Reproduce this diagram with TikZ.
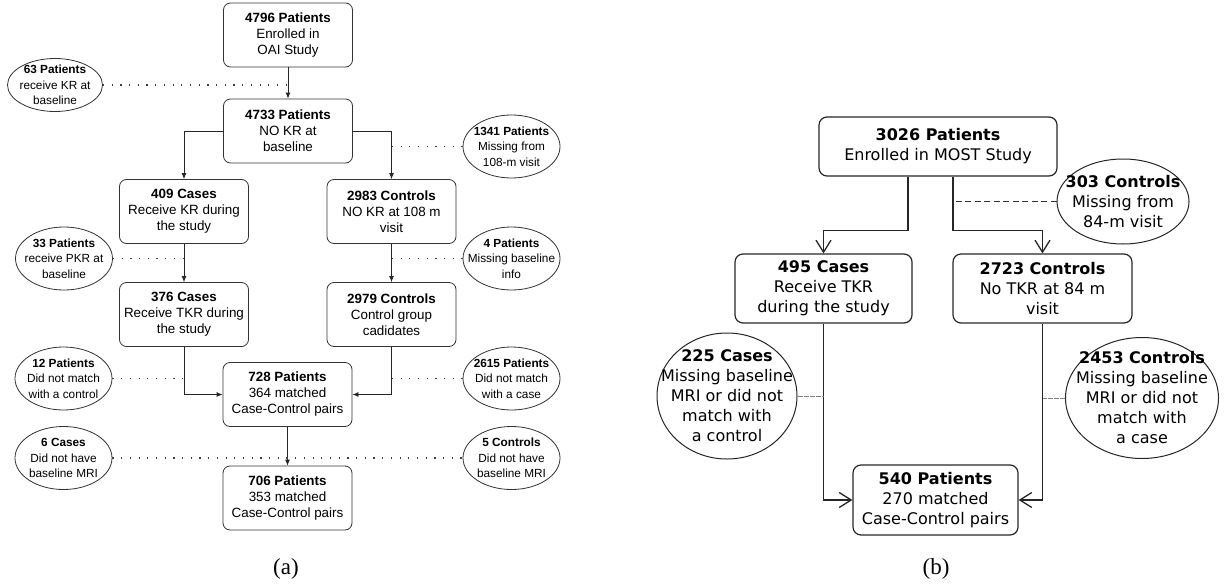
\documentclass[tikz,border=0pt]{standalone}
\usepackage{fontspec}
\setmainfont{Liberation Serif}
\newfontfamily\arialfont{Liberation Sans}
\newfontfamily\verdfont{DejaVu Sans}
\usetikzlibrary{shapes.geometric, arrows.meta}

\begin{document}
\begin{tikzpicture}[x=1pt, y=-1pt,
    oaibox/.style={draw=black!80, line width=0.8pt, rounded corners=7pt, align=center, inner sep=2pt,
      minimum width=129pt, minimum height=64pt, font=\arialfont\fontsize{13.4}{16}\selectfont},
    oaiout/.style={draw=black!80, line width=0.8pt, ellipse, inner sep=0pt,
      minimum width=97pt, minimum height=63pt},
    oailabel/.style={align=center, font=\arialfont\fontsize{11.8}{15.5}\selectfont},
    oaiarrow/.style={draw=black!85, line width=0.8pt, -{Latex[length=6pt, width=5pt]}},
    oaidots/.style={draw=black!75, line width=1.2pt, dash pattern=on 1.2pt off 7.5pt},
    mostbox/.style={draw=black!85, line width=1.2pt, rounded corners=8pt, align=center, inner sep=2pt,
      font=\verdfont\fontsize{16}{20}\selectfont},
    mostout/.style={draw=black!85, line width=1pt, ellipse, inner sep=0pt},
    mostlabel/.style={align=center, font=\verdfont\fontsize{16}{20}\selectfont},
    mostarrow/.style={draw=black!85, line width=1.3pt, -{Straight Barb[length=12pt, width=15pt]}},
    mostdash/.style={draw=black!80, line width=1pt, dash pattern=on 6pt off 3.5pt},
    mostdots/.style={draw=black!50, line width=1pt, dash pattern=on 0.6pt off 0.6pt},
    caption/.style={font=\fontsize{23}{26}\selectfont}]
    \useasboundingbox (0, 0) rectangle (1225, 586);

    % (a) OAI boxes
    \node[oaibox] (enroll) at (288, 35) {\textbf{4796 Patients}\\Enrolled in\\OAI Study};
    \node[oaibox] (nokr) at (288, 131) {\textbf{4733 Patients}\\NO KR at\\baseline};
    \node[oaibox] (cases1) at (184, 211.5) {\textbf{409 Cases}\\Receive KR during\\the study};
    \node[oaibox] (ctrl1) at (391.5, 211.5) {\textbf{2983 Controls}\\NO KR at 108 m\\visit};
    \node[oaibox] (cases2) at (184, 314.5) {\textbf{376 Cases}\\Receive TKR during\\the study};
    \node[oaibox] (ctrl2) at (391.5, 314.5) {\textbf{2979 Controls}\\Control group\\cadidates};
    \node[oaibox] (pairs1) at (287.5, 394.5) {\textbf{728 Patients}\\364 matched\\Case-Control pairs};
    \node[oaibox] (pairs2) at (287.5, 498) {\textbf{706 Patients}\\353 matched\\Case-Control pairs};

    % (a) excluded
    \node[oaiout, minimum width=95pt, minimum height=53pt,
      label={[oailabel]center:{\textbf{63 Patients}\\receive KR at\\baseline}}] (exkr) at (55, 85) {};
    \node[oaiout, label={[oailabel]center:{\textbf{1341 Patients}\\Missing from\\108-m visit}}] (exmiss) at (511.5, 146.5) {};
    \node[oaiout, label={[oailabel]center:{\textbf{33 Patients}\\receive PKR at\\baseline}}] (expkr) at (64, 258.5) {};
    \node[oaiout, label={[oailabel]center:{\textbf{4 Patients}\\Missing baseline\\info}}] (exinfo) at (511.5, 258.5) {};
    \node[oaiout, label={[oailabel]center:{\textbf{12 Patients}\\Did not match\\with a control}}] (exctrl) at (63.5, 378.5) {};
    \node[oaiout, label={[oailabel]center:{\textbf{2615 Patients}\\Did not match\\with a case}}] (excase) at (511.5, 378.5) {};
    \node[oaiout, label={[oailabel]center:{\textbf{6 Cases}\\Did not have\\baseline MRI}}] (exmri1) at (63.5, 458) {};
    \node[oaiout, label={[oailabel]center:{\textbf{5 Controls}\\Did not have\\baseline MRI}}] (exmri2) at (511.5, 458) {};

    % (a) arrows
    \draw[oaiarrow] (enroll) -- (nokr);
    \draw[oaiarrow] (nokr.west) -| (cases1.north);
    \draw[oaiarrow] (nokr.east) -| (ctrl1.north);
    \draw[oaiarrow] (cases1) -- (cases2);
    \draw[oaiarrow] (ctrl1) -- (ctrl2);
    \draw[oaiarrow] (cases2.south) |- (pairs1.west);
    \draw[oaiarrow] (ctrl2.south) |- (pairs1.east);
    \draw[oaiarrow] (pairs1) -- (pairs2);

    % (a) dotted exclusions
    \draw[oaidots] (exkr.east) -- (exkr.east -| enroll.south);
    \draw[oaidots] (exmiss.west) -- (exmiss.west -| ctrl1.north);
    \draw[oaidots] (expkr.east) -- (expkr.east -| cases1.south);
    \draw[oaidots] (exinfo.west) -- (exinfo.west -| ctrl1.south);
    \draw[oaidots] (exctrl.east) -- (exctrl.east -| cases2.south);
    \draw[oaidots] (excase.west) -- (excase.west -| ctrl2.south);
    \draw[oaidots] (exmri1.east) -- (exmri2.west);

    % (b) MOST boxes
    \node[mostbox, minimum width=238pt, minimum height=59pt] (menroll) at (938, 146.5)
      {\textbf{3026 Patients}\\Enrolled in MOST Study};
    \node[mostbox, minimum width=177pt, minimum height=69pt] (mcases) at (823.5, 288.5)
      {\textbf{495 Cases}\\Receive TKR\\during the study};
    \node[mostbox, minimum width=179pt, minimum height=69pt] (mctrl) at (1042.5, 288.5)
      {\textbf{2723 Controls}\\No TKR at 84 m\\visit};
    \node[mostbox, minimum width=165pt, minimum height=70pt] (mpairs) at (935.5, 500)
      {\textbf{540 Patients}\\270 matched\\Case-Control pairs};

    % (b) excluded
    \node[mostout, minimum width=132pt, minimum height=85pt,
      label={[mostlabel]center:{\textbf{303 Controls}\\Missing from\\84-m visit}}] (exmost) at (1123, 201.5) {};
    \node[mostout, minimum width=140pt, minimum height=126pt,
      label={[mostlabel]center:{\textbf{225 Cases}\\Missing baseline\\MRI or did not\\match with\\a control}}] (exmcases) at (727, 396) {};
    \node[mostout, minimum width=153pt, minimum height=121pt,
      label={[mostlabel]center:{\textbf{2453 Controls}\\Missing baseline\\MRI or did not\\match with\\a case}}] (exmctrls) at (1142, 398) {};

    % (b) arrows
    \coordinate (mleft) at ([xshift=-30pt]menroll.south);
    \coordinate (mright) at ([xshift=15pt]menroll.south);
    \draw[mostarrow] (mleft) -- ++(0, 54) -| (mcases.north);
    \draw[mostarrow] (mright) -- ++(0, 54) -| (mctrl.north);
    \draw[mostarrow] (mcases.south) |- (mpairs.west);
    \draw[mostarrow] (mctrl.south) |- (mpairs.east);

    % (b) exclusion links
    \draw[mostdash] (exmost.west) -- (exmost.west -| mright);
    \draw[mostdots] (exmcases.east) -- (exmcases.east -| mcases.south);
    \draw[mostdots] (exmctrls.west) -- (exmctrls.west -| mctrl.south);

    % captions
    \node[caption] (capa) at (286, 569) {(a)};
    \node[caption] (capb) at (936, 569) {(b)};
\end{tikzpicture}
\end{document}
